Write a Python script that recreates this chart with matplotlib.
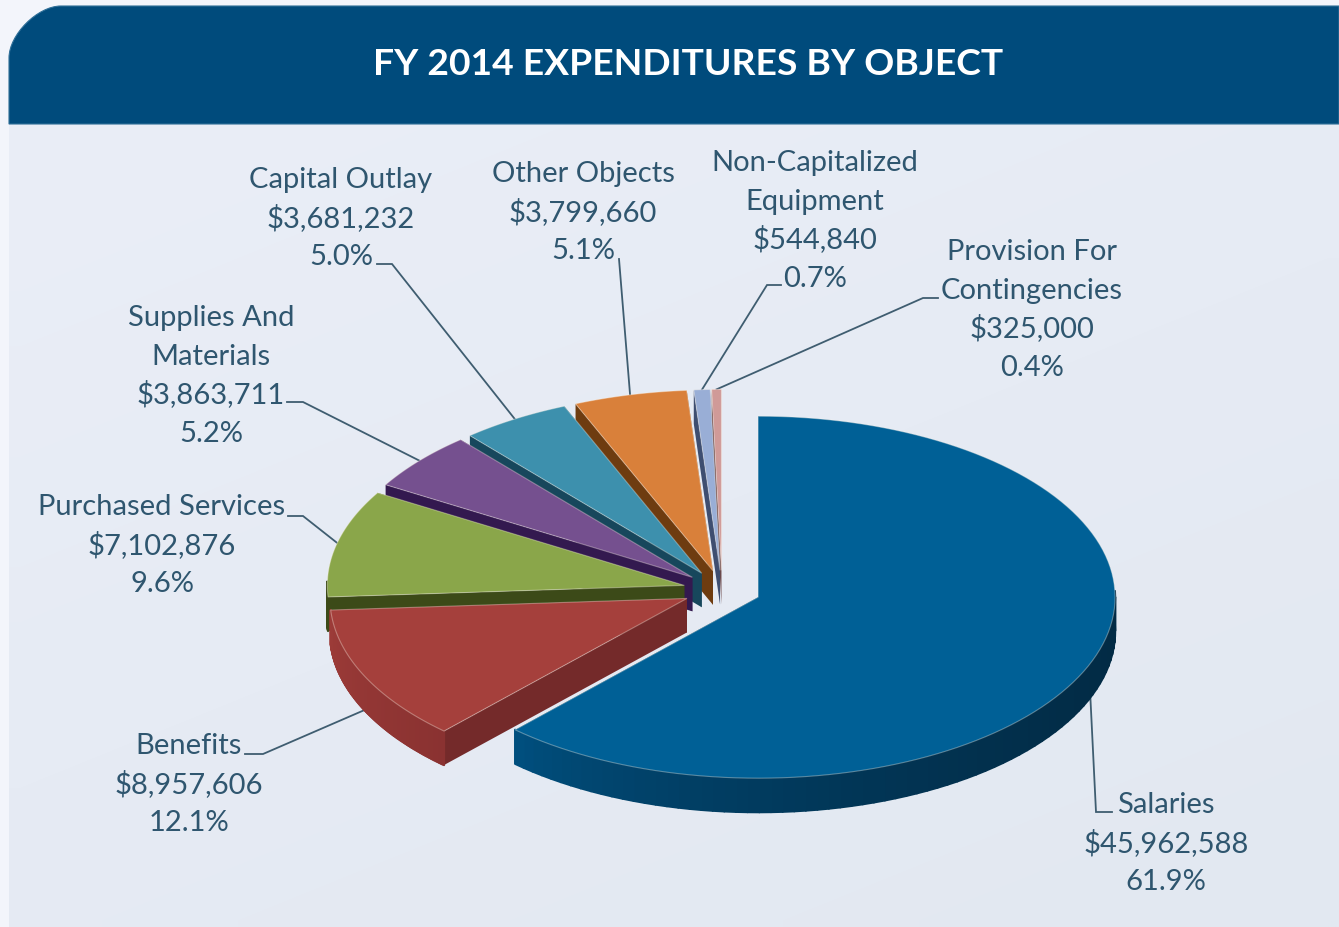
import numpy as np
import matplotlib
matplotlib.use("Agg")
import matplotlib.pyplot as plt
from matplotlib.patches import Polygon, PathPatch
from matplotlib.path import Path
from matplotlib.collections import PolyCollection

categories = ["Salaries", "Benefits", "Purchased Services", "Supplies And\nMaterials",
              "Capital Outlay", "Other Objects", "Non-Capitalized\nEquipment",
              "Provision For\nContingencies"]
values = [45962588, 8957606, 7102876, 3863711, 3681232, 3799660, 544840, 325000]
pct_labels = ["61.9%", "12.1%", "9.6%", "5.2%", "5.0%", "5.1%", "0.7%", "0.4%"]
top_colors = ["#006096", "#a5403c", "#8aa64a", "#75508f", "#3d90ad", "#d9803a", "#99aed6", "#d09a98"]
cut_colors = ["#013a5c", "#742a2a", "#3c4a18", "#33194f", "#17475c", "#6e3c10", "#3e4e70", "#6e4a4a"]
rim_left = ["#005283", "#9c3b38", "#3c4a18", "#33194f", "#17475c", "#6e3c10", "#3e4e70", "#6e4a4a"]
rim_right = ["#022b45", "#8a3231", "#3c4a18", "#33194f", "#17475c", "#6e3c10", "#3e4e70", "#6e4a4a"]

CX, CY, RX, RY, DEPTH, EXPLODE = 722, 591, 357, 181, 34, 0.1086
TEXT = "#2f566f"
LEAD = "#3f5d70"
plt.rcParams["font.family"] = ["Lato", "DejaVu Sans"]

# label centre x and baseline y of the first line, then leader bend/end points
label_pos = [(1166, 813), (189, 754), (162, 515), (211, 326), (341, 188), (583, 182), (815, 171), (1032, 260)]
leader_pts = [[(1096, 813), (1112, 813)], [(263, 755), (245, 755)], [(303, 517), (288, 517)],
              [(303, 403), (287, 403)], [(392, 265), (377, 265)], [(619, 260)],
              [(767, 286), (781, 286)], [(923, 299), (938, 299)]]

fig = plt.figure(figsize=(13.39, 9.28), dpi=100)
ax = fig.add_axes([0, 0, 1, 1])
ax.set_xlim(0, 1339); ax.set_ylim(928, 0); ax.axis("off")

# background
gx, gy = np.meshgrid(np.linspace(0, 1, 60), np.linspace(0, 1, 60))
g = gy * 0.6 + gx * 0.4
c0, c1 = np.array([0xea, 0xee, 0xf7]) / 255, np.array([0xe2, 0xe8, 0xf1]) / 255
ax.imshow(c0 + (c1 - c0) * g[..., None], extent=(9, 1339, 928, 120), aspect="auto", zorder=0, interpolation="bilinear")
ax.set_xlim(0, 1339); ax.set_ylim(928, 0)
fig.patch.set_facecolor("#f3f5fb")

# header band
R = 52
K = 0.45 * R
verts = [(9, 125), (9, 7 + R), (9, 7 + R - K), (9 + R - K, 7), (9 + R, 7), (1339, 7), (1339, 125), (9, 125)]
codes = [Path.MOVETO, Path.LINETO, Path.CURVE4, Path.CURVE4, Path.CURVE4, Path.LINETO, Path.LINETO, Path.CLOSEPOLY]
ax.add_patch(PathPatch(Path(verts, codes), facecolor="#004b7c", edgecolor="#2f6f98", lw=0.8, zorder=1))
ax.text(688, 75, "FY 2014 EXPENDITURES BY OBJECT", color="white", fontsize=26.8, fontweight="bold",
        ha="center", va="baseline", zorder=2)

# pie geometry from the values
v = np.array(values, float)
frac = v / v.sum() * 2 * np.pi
ends = np.cumsum(frac)
starts = ends - frac
mids = (starts + ends) / 2

def rim(ox, oy, t):
    return ox + RX * np.sin(t), oy - RY * np.cos(t)

def hexrgb(h):
    return np.array(matplotlib.colors.to_rgb(h))

apex = []
for m in mids:
    apex.append((CX + EXPLODE * RX * np.sin(m), CY - EXPLODE * RY * np.cos(m)))

# leaders sit below the pie
for i, m in enumerate(mids):
    x, y = rim(*apex[i], m)
    d = DEPTH if np.cos(m) < 0 else 0
    pts = [(x, y + d)] + leader_pts[i]
    ax.plot(*zip(*pts), color=LEAD, lw=1.3, zorder=3, solid_joinstyle="miter")

# back slices first, Salaries last
z = 4
for i in range(len(values) - 1, -1, -1):
    ox, oy = apex[i]
    t = np.linspace(starts[i], ends[i], 120)
    xs, ys = rim(ox, oy, t)
    # cut faces
    for a in (starts[i], ends[i]):
        ex, ey = rim(ox, oy, a)
        ax.add_patch(Polygon([(ox, oy), (ex, ey), (ex, ey + DEPTH), (ox, oy + DEPTH)],
                             facecolor=cut_colors[i], edgecolor="none", zorder=z))
    # outer wall, only the part facing the viewer
    quads, cols = [], []
    cl, cr = hexrgb(rim_left[i]), hexrgb(rim_right[i])
    for k in range(len(t) - 1):
        if np.cos((t[k] + t[k + 1]) / 2) < 0.02:
            quads.append([(xs[k], ys[k]), (xs[k + 1], ys[k + 1]),
                          (xs[k + 1], ys[k + 1] + DEPTH), (xs[k], ys[k] + DEPTH)])
            f = ((xs[k] - xs.min()) / max(xs.max() - xs.min(), 1)) ** 0.6
            cols.append(cl + (cr - cl) * f)
    if quads:
        ax.add_collection(PolyCollection(quads, facecolors=cols, edgecolors=cols, linewidths=1.6,
                                         joinstyle="round", zorder=z))
    # top face
    ax.add_patch(Polygon(np.vstack([[ox, oy], np.c_[xs, ys]]), closed=True, facecolor=top_colors[i],
                         edgecolor=(1, 0.97, 0.92, 0.35), lw=0.8, joinstyle="miter", zorder=z + 0.5))
    z += 1

# labels
line_h = 38.6
for i, name in enumerate(categories):
    lines = name.split("\n") + ["${:,}".format(values[i]), pct_labels[i]]
    x, y = label_pos[i]
    for j, s in enumerate(lines):
        ax.text(x, y + j * line_h, s, color=TEXT, fontsize=21, ha="center", va="baseline", zorder=20)

fig.savefig("out.png", dpi=100, facecolor=fig.get_facecolor())
